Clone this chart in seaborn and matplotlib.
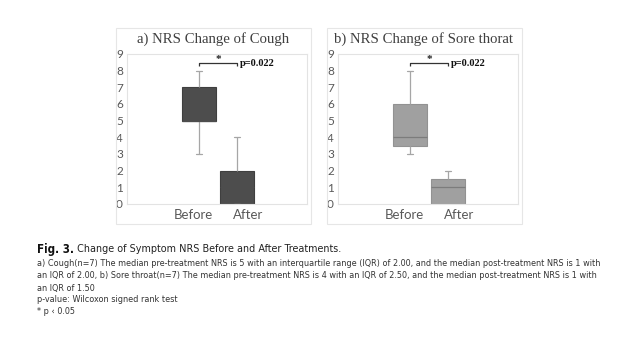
import numpy as np
import pandas as pd
import matplotlib
matplotlib.use("Agg")
import matplotlib.pyplot as plt
import seaborn as sns
from matplotlib import font_manager
from matplotlib.patches import Rectangle

# ---- data: five-number summaries of NRS (n=7 per group) ----
phases = ["Before", "After"]
cough_min = [3, 0]
cough_q1 = [5, 0]
cough_med = [5, 1]
cough_q3 = [7, 2]
cough_max = [8, 4]

sore_min = [3, 0]
sore_q1 = [3.5, 0]
sore_med = [4, 1]
sore_q3 = [6, 1.5]
sore_max = [8, 2]

titles = ["a) NRS Change of Cough", "b) NRS Change of Sore thorat"]
p_labels = ["p=0.022", "p=0.022"]
y_ticks = list(range(10))

caption_head = "Fig. 3."
caption_title = " Change of Symptom NRS Before and After Treatments."
caption_lines = [
    "a) Cough(n=7) The median pre-treatment NRS is 5 with an interquartile range (IQR) of 2.00, and the median post-treatment NRS is 1 with",
    "an IQR of 2.00, b) Sore throat(n=7) The median pre-treatment NRS is 4 with an IQR of 2.50, and the median post-treatment NRS is 1 with",
    "an IQR of 1.50",
    "p-value: Wilcoxon signed rank test",
    "* p \u2039 0.05",
]


def seven_point(lo, q1, med, q3, hi):
    # n=7 sample whose linear-interpolated quartiles equal the summary
    return [lo, q1, q1, med, q3, q3, hi]


def frame(mins, q1s, meds, q3s, maxs):
    rows = []
    for ph, lo, a, m, b, hi in zip(phases, mins, q1s, meds, q3s, maxs):
        for v in seven_point(lo, a, m, b, hi):
            rows.append({"phase": ph, "nrs": v})
    return pd.DataFrame(rows)


df_cough = frame(cough_min, cough_q1, cough_med, cough_q3, cough_max)
df_sore = frame(sore_min, sore_q1, sore_med, sore_q3, sore_max)

sns.set_style("white")
plt.rcParams["font.family"] = ["Lato", "DejaVu Sans"]

# caption face: a condensed sans if one is installed
cap_font, cap_stretch = "Liberation Sans", "normal"
for f in font_manager.fontManager.ttflist:
    if f.name in ("DejaVu Sans", "Liberation Sans Narrow") and (
            f.stretch == "condensed" or "Narrow" in f.name or "Condensed" in f.fname):
        if f.style == "normal":
            cap_font = f.name
            cap_stretch = "condensed" if "Condensed" in f.fname else "normal"
            break

W, H = 634, 338
fig = plt.figure(figsize=(W / 100, H / 100), dpi=100)
renderer = fig.canvas.get_renderer()


def px_axes(l, t, r, b):
    return fig.add_axes([l / W, 1 - b / H, (r - l) / W, (b - t) / H])


def px_rect(l, t, r, b, color):
    fig.add_artist(Rectangle((l / W, 1 - b / H), (r - l) / W, (b - t) / H,
                             transform=fig.transFigure, fill=False,
                             edgecolor=color, linewidth=0.8))


panels = [
    dict(df=df_cough, face="#4d4d4d", edge="#3f3f3f", med="#4d4d4d",
         whisk="#a6a6a6", dx=0),
    dict(df=df_sore, face="#a0a0a0", edge="#929292", med="#7c7c7c",
         whisk="#a6a6a6", dx=211),
]

for i, p in enumerate(panels):
    dx = p["dx"]
    px_rect(116 + dx, 28, 311 + dx, 224, "#e6e6e6")
    ax = px_axes(127 + dx, 54, 307 + dx, 204)
    sns.boxplot(data=p["df"], x="phase", y="nrs", order=phases, ax=ax,
                whis=(0, 100), width=0.89, fliersize=0, saturation=1,
                color=p["face"], linewidth=0.8,
                boxprops=dict(facecolor=p["face"], edgecolor=p["edge"]),
                whiskerprops=dict(color=p["whisk"], linewidth=0.9),
                capprops=dict(color=p["whisk"], linewidth=0.9),
                medianprops=dict(color=p["med"], linewidth=0.9))
    cont = ax.containers[-1]
    for cap in cont.caps:
        xd = np.asarray(cap.get_xdata(), dtype=float)
        c = xd.mean()
        cap.set_xdata([c - 0.085, c + 0.085])

    ax.set_xlim(-1.9, 2.85)
    ax.set_ylim(0, 9)
    ax.set_yticks(y_ticks)
    ax.set_yticklabels([str(t) for t in y_ticks])
    ax.set_xticks([-0.15, 1.3])
    ax.set_xticklabels(phases)
    ax.set_xlabel("")
    ax.set_ylabel("")
    ax.tick_params(axis="y", length=0, pad=3, labelsize=8.5, labelcolor="#595959")
    ax.tick_params(axis="x", length=0, pad=3.5, labelsize=9.5, labelcolor="#595959")
    for s in ax.spines.values():
        s.set_color("#e3e3e3")
        s.set_linewidth(0.8)
    ax.grid(False)

    # significance bracket between the two boxes
    yb, yt = 8.28, 8.45
    ax.plot([0, 0, 1, 1], [yb, yt, yt, yb], color="#333333", linewidth=0.9,
            solid_capstyle="butt", clip_on=False)
    ax.text(0.5, 8.66, "*", ha="center", va="center", fontsize=8,
            fontweight="bold", color="#222222", family="Liberation Serif")
    ax.text(1.07, 8.4, p_labels[i], ha="left", va="center", fontsize=7.5,
            fontweight="bold", color="#111111", family="Liberation Serif")

    fig.text((213 + dx) / W, 1 - 39 / H, titles[i], ha="center", va="center",
             fontsize=10.6, color="#404040", family="Liberation Serif")


def fitted_text(x_px, y_px, s, width_px, size, **kw):
    t = fig.text(x_px / W, 1 - y_px / H, s, ha="left", va="center",
                 fontsize=size, family=cap_font, fontstretch=cap_stretch, **kw)
    w = t.get_window_extent(renderer).width
    t.set_fontsize(size * width_px / w)
    return t


# caption
head = fig.text(37 / W, 1 - 249 / H, caption_head, ha="left", va="center",
                fontsize=8.3, fontweight="bold", color="#111111",
                family=cap_font, fontstretch=cap_stretch)
bb = head.get_window_extent(renderer)
fitted_text(bb.x1, 249, caption_title, 341 - bb.x1, 8, color="#222222")

body_size = 7.3
probe = fig.text(0, 0, caption_lines[0], fontsize=body_size, family=cap_font,
                 fontstretch=cap_stretch)
body_size = body_size * 563 / probe.get_window_extent(renderer).width
probe.remove()
for k, line in enumerate(caption_lines):
    fig.text(37 / W, 1 - (264 + 12 * k) / H, line, ha="left", va="center",
             fontsize=body_size, color="#333333", family=cap_font,
             fontstretch=cap_stretch)

fig.savefig("out.png", dpi=100, facecolor="white")
